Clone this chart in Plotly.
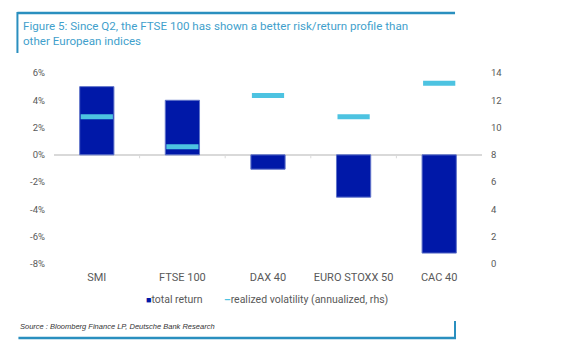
import plotly.graph_objects as go

categories = ["SMI", "FTSE 100", "DAX 40", "EURO STOXX 50", "CAC 40"]
total_return = [5.0, 4.0, -1.05, -3.1, -7.2]
realized_vol = [10.8, 8.6, 12.35, 10.8, 13.25]

left_ticks = [-8, -6, -4, -2, 0, 2, 4, 6]
left_labels = [f"{v}%" for v in left_ticks]
right_ticks = [0, 2, 4, 6, 8, 10, 12, 14]

OFF = 8  # page body margin
W, H = 586 - OFF, 359 - OFF
L, R, T, B = 53.6, 482, 73, 264  # plot area in page px

def px(x):
    return (x - L) / (R - L)

def py(y):
    return (B - y) / (B - T)

FONT = "Roboto"
GREY = "#595959"
TITLE_BLUE = "#3F9FCC"
FRAME = "#2A8FBF"
BAR = "#0018A8"
VOL = "#4DC3E1"

fig = go.Figure()
fig.add_trace(go.Bar(
    x=categories, y=total_return, name="total return",
    marker=dict(color=BAR, line=dict(color="#5F73C9", width=1)),
    width=0.4, yaxis="y",
))
fig.add_trace(go.Scatter(
    x=categories, y=realized_vol, name="realized volatility (annualized, rhs)",
    mode="markers", yaxis="y2",
    marker=dict(symbol="line-ew", size=23, color=VOL,
                line=dict(color=VOL, width=5)),
))

shapes = []
for i in range(1, len(categories)):
    shapes.append(dict(type="line", xref="x", yref="y", x0=i - 0.5, x1=i - 0.5,
                       y0=0, y1=-0.25, line=dict(color="#d9d9d9", width=1)))
shapes += [
    dict(type="line", xref="paper", yref="paper", x0=px(17), x1=px(455),
         y0=py(13), y1=py(13), line=dict(color=FRAME, width=2.5)),
    dict(type="line", xref="paper", yref="paper", x0=px(17), x1=px(17),
         y0=py(12), y1=py(53), line=dict(color=FRAME, width=2)),
    dict(type="line", xref="paper", yref="paper", x0=px(18), x1=px(456),
         y0=py(338), y1=py(338), line=dict(color=FRAME, width=2.5)),
    dict(type="line", xref="paper", yref="paper", x0=px(455), x1=px(455),
         y0=py(321), y1=py(339), line=dict(color=FRAME, width=2)),
]

annotations = [
    dict(xref="paper", yref="paper", x=px(21), y=py(17), xanchor="left", yanchor="top",
         align="left", showarrow=False,
         text="Figure 5: Since Q2, the FTSE 100 has shown a better risk/return profile than<br>other European indices",
         font=dict(family=FONT, size=11.6, color=TITLE_BLUE)),
    dict(xref="paper", yref="paper", x=px(18), y=py(326), xanchor="left", yanchor="middle",
         showarrow=False, text="<i>Source : Bloomberg Finance LP, Deutsche Bank Research</i>",
         font=dict(family="Liberation Sans Narrow, Liberation Sans", size=7.5, color="#333333")),
    dict(xref="paper", yref="paper", x=px(144), y=py(299), xanchor="left", yanchor="middle",
         showarrow=False,
         text=f"<span style='color:{BAR};font-size:9px'>■</span>total return",
         font=dict(family=FONT, size=10.5, color=GREY)),
    dict(xref="paper", yref="paper", x=px(222), y=py(299), xanchor="left", yanchor="middle",
         showarrow=False,
         text=f"<span style='color:{VOL}'><b>–</b></span>realized volatility (annualized, rhs)",
         font=dict(family=FONT, size=10.5, color=GREY)),
]

fig.update_layout(
    width=W, height=H,
    margin=dict(l=L - OFF, r=586 - R, t=T - OFF, b=359 - B, pad=0),
    paper_bgcolor="white", plot_bgcolor="white",
    font=dict(family=FONT, size=10, color=GREY),
    showlegend=False,
    xaxis=dict(showgrid=False, showline=False, ticks="", ticklabelstandoff=5,
               tickfont=dict(size=11, color=GREY)),
    yaxis=dict(range=[-8, 6], tickvals=left_ticks, ticktext=left_labels, showgrid=False,
               zeroline=True, zerolinecolor="#d9d9d9", zerolinewidth=1.5,
               showline=False, ticks="", ticklabelstandoff=8,
               tickfont=dict(size=9.5, color=GREY)),
    yaxis2=dict(range=[0, 14], tickvals=right_ticks, overlaying="y", side="right",
                showgrid=False, zeroline=False, showline=False, ticks="",
                ticklabelstandoff=8, tickfont=dict(size=9.5, color=GREY)),
    shapes=shapes, annotations=annotations,
)

fig.write_html("out.html")
